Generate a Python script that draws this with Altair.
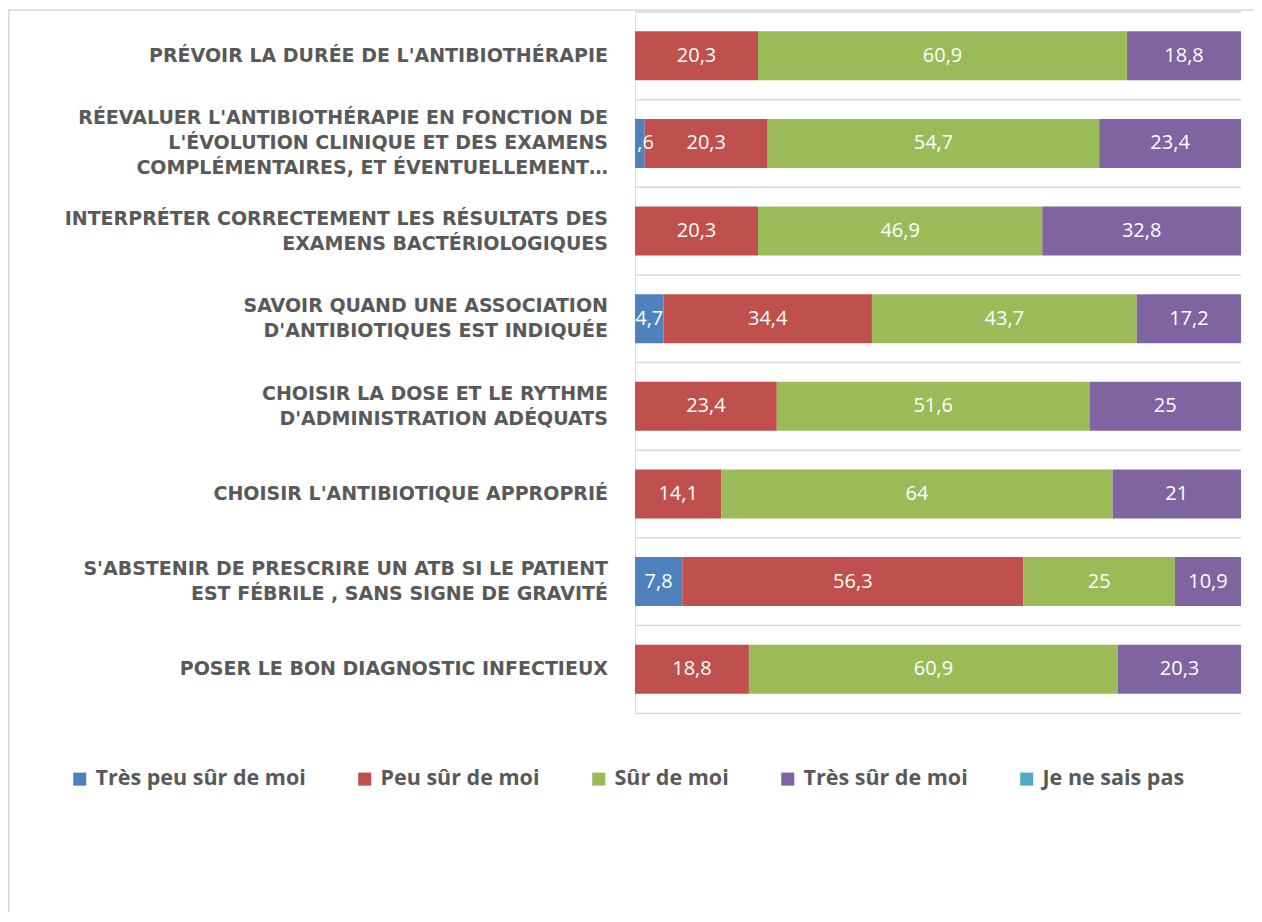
import altair as alt
import pandas as pd

categories = [
    "PRÉVOIR LA DURÉE DE L'ANTIBIOTHÉRAPIE",
    "RÉEVALUER L'ANTIBIOTHÉRAPIE EN FONCTION DE|L'ÉVOLUTION CLINIQUE ET DES EXAMENS|COMPLÉMENTAIRES, ET ÉVENTUELLEMENT…",
    "INTERPRÉTER CORRECTEMENT LES RÉSULTATS DES|EXAMENS BACTÉRIOLOGIQUES",
    "SAVOIR QUAND UNE ASSOCIATION|D'ANTIBIOTIQUES EST INDIQUÉE",
    "CHOISIR LA DOSE ET LE RYTHME|D'ADMINISTRATION ADÉQUATS",
    "CHOISIR L'ANTIBIOTIQUE APPROPRIÉ",
    "S'ABSTENIR DE PRESCRIRE UN ATB SI LE PATIENT|EST FÉBRILE , SANS SIGNE DE GRAVITÉ",
    "POSER LE BON DIAGNOSTIC INFECTIEUX",
]
series = ["Très peu sûr de moi", "Peu sûr de moi", "Sûr de moi", "Très sûr de moi", "Je ne sais pas"]
colors = ["#4f81bd", "#c0504d", "#9bbb59", "#8064a2", "#4bacc6"]

tres_peu_sur = [0, 1.6, 0, 4.7, 0, 0, 7.8, 0]
peu_sur = [20.3, 20.3, 20.3, 34.4, 23.4, 14.1, 56.3, 18.8]
sur = [60.9, 54.7, 46.9, 43.7, 51.6, 64, 25, 60.9]
tres_sur = [18.8, 23.4, 32.8, 17.2, 25, 21, 10.9, 20.3]
ne_sais_pas = [0, 0, 0, 0, 0, 0, 0, 0]

values_by_series = [tres_peu_sur, peu_sur, sur, tres_sur, ne_sais_pas]

rows = []
for si, (s, vals) in enumerate(zip(series, values_by_series)):
    for c, v in zip(categories, vals):
        rows.append({"cat": c, "series": s, "order": si, "value": v})
df = pd.DataFrame(rows)
cat_df = pd.DataFrame({"cat": categories})

# one row per label line, for the category labels
LINE_H = 25
line_rows = []
for c in categories:
    parts = c.split("|")
    n = len(parts)
    for i, p in enumerate(parts):
        line_rows.append({"cat": c, "line": p, "off": (i - (n - 1) / 2) * LINE_H})
lines_df = pd.DataFrame(line_rows)

GRID = "#d9d9d9"

y_axis = alt.Axis(
    title=None, ticks=False, grid=False, labels=False,
    domain=True, domainColor=GRID, domainWidth=1,
)
y_scale = alt.Scale(paddingInner=0, paddingOuter=0)
y_enc = alt.Y("cat:N", sort=categories, scale=y_scale, axis=y_axis)

x_enc = alt.X(
    "x0:Q",
    scale=alt.Scale(domain=[0, 1], nice=False, zero=True),
    axis=alt.Axis(title=None, labels=False, ticks=False, grid=False,
                  domain=True, domainColor=GRID, domainWidth=1.5),
)

base = alt.Chart(df).transform_stack(
    stack="value",
    groupby=["cat"],
    offset="normalize",
    sort=[alt.SortField("order", order="ascending")],
    as_=["x0", "x1"],
).transform_calculate(
    xm="(datum.x0 + datum.x1) / 2",
    lab="replace(toString(datum.value), '.', ',')",
)

bars = base.mark_bar(height={"band": 0.56}).encode(
    x=x_enc,
    x2="x1:Q",
    y=y_enc,
    color=alt.Color(
        "series:N",
        scale=alt.Scale(domain=series, range=colors),
        legend=alt.Legend(
            title=None,
            orient="none",
            legendX=-566,
            legendY=756,
            direction="horizontal",
            columns=5,
            columnPadding=48,
            symbolType="square",
            symbolSize=170,
            symbolStrokeWidth=0,
            labelFont="Open Sans",
            labelFontSize=21.5,
            labelFontWeight="bold",
            labelColor="#595959",
            labelLimit=400,
            labelOffset=5,
        ),
    ),
)

labels = base.transform_filter("datum.value > 0").mark_text(
    color="white", font="Open Sans", fontSize=20, clip=True
).encode(
    x=alt.X("xm:Q"),
    y=y_enc,
    text="lab:N",
)

gridlines = alt.Chart(cat_df).mark_rule(color=GRID, strokeWidth=1.5).encode(
    y=alt.Y("cat:N", sort=categories, scale=y_scale, axis=y_axis, bandPosition=0),
)

cat_label_layers = []
for off in sorted(lines_df["off"].unique()):
    cat_label_layers.append(
        alt.Chart(lines_df).transform_filter(f"datum.off == {off}").mark_text(
            align="right", baseline="middle", dy=off,
            font="DejaVu Sans", fontSize=19, fontWeight="bold", color="#595959",
        ).encode(
            x=alt.value(-27),
            y=y_enc,
            text="line:N",
        )
    )

frame_df = pd.DataFrame({"k": [0]})
frame_left = alt.Chart(frame_df).mark_rule(color=GRID, strokeWidth=2).encode(
    x=alt.value(-626.5), y=alt.value(-2), y2=alt.value(900)
)
frame_top = alt.Chart(frame_df).mark_rule(color=GRID, strokeWidth=1.5).encode(
    x=alt.value(-627), x2=alt.value(620), y=alt.value(-2)
)

chart = alt.layer(frame_left, frame_top, gridlines, bars, labels, *cat_label_layers).properties(
    width=606,
    height=701,
    autosize=alt.AutoSizeParams(type="none"),
    padding={"left": 627, "top": 4, "right": 12, "bottom": 200},
).configure_view(stroke=None)

chart.save("out.html", embed_options={"renderer": "svg", "actions": False})
